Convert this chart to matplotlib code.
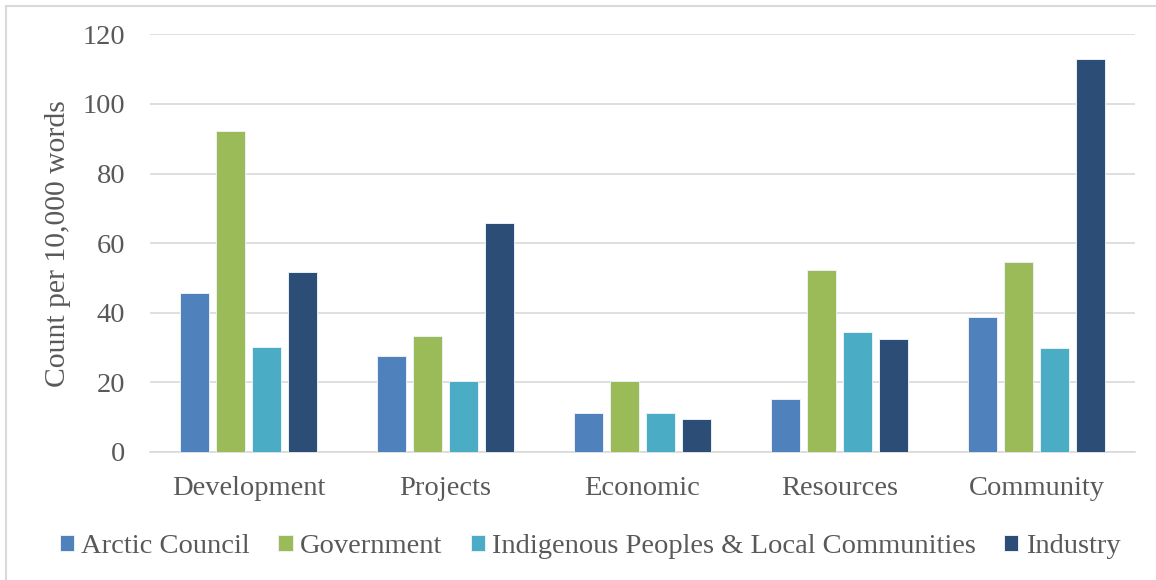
import matplotlib.pyplot as plt
import numpy as np
from matplotlib.lines import Line2D

categories = ["Development", "Projects", "Economic", "Resources", "Community"]
series_names = [
    "Arctic Council",
    "Government",
    "Indigenous Peoples & Local Communities",
    "Industry",
]
arctic_council = [45.6, 27.6, 11.1, 15.2, 38.8]
government = [92.3, 33.2, 20.4, 52.3, 54.5]
indigenous = [30.3, 20.4, 11.3, 34.4, 29.9]
industry = [51.7, 65.9, 9.6, 32.5, 113.0]
yticks = [0, 20, 40, 60, 80, 100, 120]

colors = ["#4F81BD", "#9BBB59", "#4BACC6", "#2C4D75"]
text_color = "#595959"

plt.rcParams.update({"font.family": ["Liberation Serif", "DejaVu Serif"]})

fig = plt.figure(figsize=(11.56, 5.80), dpi=100)
ax = fig.add_axes([0.1298, 0.2207, 0.852, 0.7202])

x = np.arange(len(categories))
step = 0.1827
width = 0.1437
all_values = [arctic_council, government, indigenous, industry]
for i, (vals, name, col) in enumerate(zip(all_values, series_names, colors)):
    ax.bar(
        x + (i - 1.5) * step,
        vals,
        width,
        color=col,
        edgecolor="#EAF0F7",
        linewidth=0.7,
        label=name,
        zorder=3,
    )

ax.set_xlim(-0.5, len(categories) - 0.5)
ax.set_ylim(0, 120)
ax.set_yticks(yticks)
ax.set_xticks(x)
ax.set_xticklabels(categories)
ax.tick_params(axis="both", length=0, labelsize=20.5, colors=text_color)
ax.tick_params(axis="x", pad=17)
ax.tick_params(axis="y", pad=18)
ax.grid(axis="y", color="#D9D9D9", linewidth=1.2, zorder=0)
for side in ["top", "right", "left"]:
    ax.spines[side].set_visible(False)
ax.spines["bottom"].set_color("#D9D9D9")
ax.spines["bottom"].set_linewidth(1.2)

ax.set_ylabel("Count per 10,000 words", fontsize=21.3, color=text_color, labelpad=8)

ax.legend(
    loc="center",
    bbox_to_anchor=(0.5104, 0.058),
    bbox_transform=fig.transFigure,
    ncol=4,
    frameon=False,
    fontsize=20.5,
    labelcolor=text_color,
    handlelength=0.5,
    handleheight=0.5,
    handletextpad=0.25,
    columnspacing=1.0,
)

# light frame on the left and top edges (the rest is cropped)
fig.add_artist(Line2D([5.5 / 1156, 5.5 / 1156], [0, 1 - 5.5 / 580],
                      transform=fig.transFigure, color="#D9D9D9", lw=1.5))
fig.add_artist(Line2D([5.5 / 1156, 1], [1 - 5.5 / 580, 1 - 5.5 / 580],
                      transform=fig.transFigure, color="#D9D9D9", lw=1.5))

fig.savefig("out.png", dpi=100)
